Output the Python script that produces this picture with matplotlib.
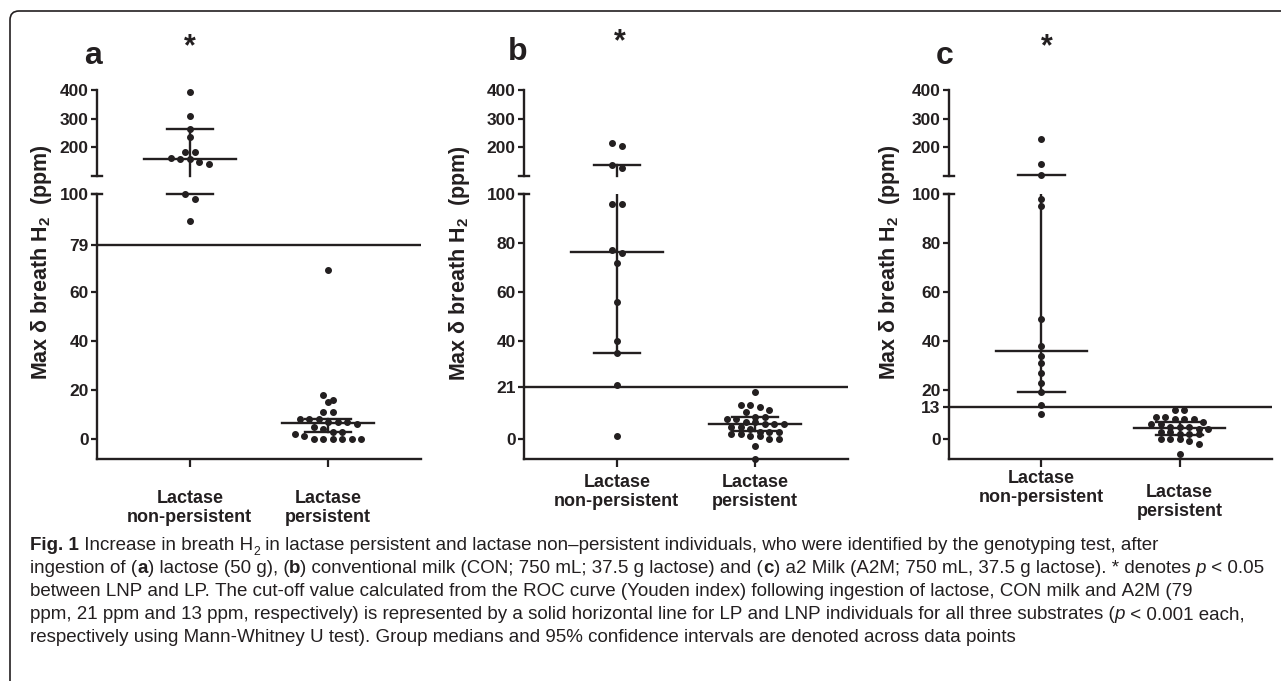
import numpy as np
import matplotlib
matplotlib.use('Agg')
import matplotlib.pyplot as plt
from matplotlib import transforms
from matplotlib.lines import Line2D
from matplotlib.patches import FancyBboxPatch

W, H = 1281, 681
INK = '#231f20'

plt.rcParams['font.family'] = ['Liberation Sans', 'DejaVu Sans']
plt.rcParams['mathtext.fontset'] = 'custom'
plt.rcParams['mathtext.rm'] = 'Liberation Sans'
plt.rcParams['mathtext.bf'] = 'Liberation Sans:bold'
plt.rcParams['mathtext.it'] = 'Liberation Sans:italic'

# ---- data (ppm) ----
panel_ids = ['a', 'b', 'c']
group_labels = ['Lactase\nnon-persistent', 'Lactase\npersistent']
cutoffs = [79, 21, 13]
lower_ticks = [[0, 20, 40, 60, 79, 100],
               [0, 21, 40, 60, 80, 100],
               [0, 13, 20, 40, 60, 80, 100]]
upper_ticks = [200, 300, 400]

lnp_a = [392, 308, 263, 237, 185, 183, 162, 160, 160, 150, 142, 100, 98, 89]
lp_a = [69, 18, 16, 15, 11, 11, 8, 8, 8, 7, 7, 7, 6, 5, 4, 3, 3, 2, 1, 0, 0, 0, 0, 0, 0]
lnp_b = [216, 205, 138, 127, 96, 96, 77, 76, 72, 56, 40, 35, 22, 1]
lp_b = [19, 14, 14, 13, 12, 11, 9, 9, 8, 8, 7, 7, 6, 6, 6, 5, 5, 4, 3, 3, 3, 2, 2, 1, 1, 0, 0, -3, -8]
lnp_c = [229, 142, 102, 98, 95, 49, 38, 34, 31, 27, 23, 19, 14, 10]
lp_c = [12, 12, 9, 9, 8, 8, 8, 7, 6, 6, 5, 5, 5, 4, 4, 3, 3, 2, 2, 2, 0, 0, 0, -1, -2, -6]
values = [[lnp_a, lp_a], [lnp_b, lp_b], [lnp_c, lp_c]]

medians = [[161, 6.4], [76.5, 6.1], [36, 4.6]]
ci_low = [[100, 3.0], [35, 3.3], [19, 1.6]]
ci_high = [[263, 8.0], [138, 9.1], [102, 7.1]]

caption = [
    [('Fig. 1', 'b'), (' Increase in breath H', ''), ('2', 'sub'),
     (' in lactase persistent and lactase non\u2013persistent individuals, who were identified by the genotyping test, after', '')],
    [('ingestion of (', ''), ('a', 'b'), (') lactose (50 g), (', ''), ('b', 'b'),
     (') conventional milk (CON; 750 mL; 37.5 g lactose) and (', ''), ('c', 'b'),
     (') a2 Milk (A2M; 750 mL, 37.5 g lactose). * denotes ', ''), ('p', 'i'), (' < 0.05', '')],
    [('between LNP and LP. The cut-off value calculated from the ROC curve (Youden index) following ingestion of lactose, CON milk and A2M (79', '')],
    [('ppm, 21 ppm and 13 ppm, respectively) is represented by a solid horizontal line for LP and LNP individuals for all three substrates (', ''),
     ('p', 'i'), (' < 0.001 each,', '')],
    [('respectively using Mann-Whitney U test). Group medians and 95% confidence intervals are denoted across data points', '')],
]

# ---- layout (pixels) ----
panel_x = [(97, 421), (524, 848), (949, 1272)]
upper_y = (90, 176)
lower_y = (194, 459)
lower_lim = (-8.2, 100)
upper_lim = (100, 400)
xlim = (-0.67, 1.67)
ylabel_pos = [(42, 262), (460, 263), (890, 262)]
letter_pos = [(93, 56), (518, 52), (945, 56)]
star_pos = [(190, 47), (620, 42), (1047, 47)]
xlabel_y = [(508, 508), (492, 492), (488, 502)]


def rect(x0, x1, y0, y1):
    return [x0 / W, 1 - y1 / H, (x1 - x0) / W, (y1 - y0) / H]


def swarm(ax, vals, tol=6.0, step=9.5):
    vals = np.asarray(vals, float)
    ys = ax.transData.transform(np.column_stack([np.zeros(len(vals)), vals]))[:, 1]
    order = np.argsort(-ys, kind='stable')
    offs = np.zeros(len(vals))
    rows, row = [], []
    for i in order:
        if row and ys[row[0]] - ys[i] > tol:
            rows.append(row)
            row = []
        row.append(i)
    rows.append(row)
    for r in rows:
        k = len(r)
        for j, i in enumerate(r):
            offs[i] = (j - (k - 1) / 2) * step
    unit = ax.transData.transform([[1, 0]])[0, 0] - ax.transData.transform([[0, 0]])[0, 0]
    return offs / unit


def style_axis(ax, ticks, lim):
    ax.set_xlim(*xlim)
    ax.set_ylim(*lim)
    for s in ['top', 'right']:
        ax.spines[s].set_visible(False)
    for s in ['left', 'bottom']:
        ax.spines[s].set_linewidth(1.7)
        ax.spines[s].set_color(INK)
    ax.set_yticks(ticks)
    ax.set_yticklabels([str(t) for t in ticks], fontsize=12.5, fontweight='bold', color=INK)
    ax.tick_params(axis='y', direction='out', length=4, width=1.6, color=INK, pad=2)
    ax.patch.set_alpha(0)


fig = plt.figure(figsize=(W / 100, H / 100), dpi=100)
fig.patch.set_facecolor('white')

for p in range(3):
    x0, x1 = panel_x[p]
    up = fig.add_axes(rect(x0, x1, *upper_y))
    lo = fig.add_axes(rect(x0, x1, *lower_y))
    style_axis(up, upper_ticks, upper_lim)
    style_axis(lo, lower_ticks[p], lower_lim)
    up.spines['bottom'].set_visible(False)
    up.set_xticks([])
    lo.set_xticks([0, 1])
    lo.set_xticklabels(['', ''])
    lo.tick_params(axis='x', direction='out', length=6, width=1.6, color=INK)

    # break caps on the y axis
    for yy in (upper_y[1], lower_y[0]):
        fig.add_artist(Line2D([(x0 - 5) / W, (x0 + 5) / W], [1 - yy / H, 1 - yy / H],
                              transform=fig.transFigure, color=INK, lw=1.7))

    lo.axhline(cutoffs[p], color=INK, lw=1.7, zorder=2)

    for g in range(2):
        v = np.asarray(values[p][g], float)
        for ax, mask in ((up, v > 100), (lo, v <= 100)):
            if mask.any():
                xs = g + swarm(ax, v[mask])
                ax.plot(xs, v[mask], 'o', ms=4.0, color=INK, mec=INK, zorder=5, clip_on=False)
        lo_v, hi_v = ci_low[p][g], ci_high[p][g]
        lo.plot([g, g], [max(lo_v, lower_lim[0]), min(hi_v, 100)], color=INK, lw=1.7, zorder=3)
        if hi_v > 100:
            up.plot([g, g], [max(lo_v, 100), hi_v], color=INK, lw=1.7, zorder=3, clip_on=False)
        for val, half in ((medians[p][g], 0.333), (lo_v, 0.167), (hi_v, 0.167)):
            ax = up if val > 100 else lo
            ax.plot([g - half, g + half], [val, val], color=INK, lw=1.7, zorder=3, clip_on=False)

        tr = transforms.blended_transform_factory(lo.transData, fig.transFigure)
        lo.text(g, 1 - xlabel_y[p][g] / H, group_labels[g], transform=tr, ha='center', va='center',
                fontsize=13, fontweight='bold', color=INK, linespacing=1.15)

    fig.text(ylabel_pos[p][0] / W, 1 - ylabel_pos[p][1] / H, 'Max \u03b4 breath H$_\\mathbf{2}$  (ppm)',
             rotation=90, ha='center', va='center', fontsize=15.5, fontweight='bold', color=INK)
    fig.text(letter_pos[p][0] / W, 1 - letter_pos[p][1] / H, panel_ids[p], ha='center', va='center',
             fontsize=23, fontweight='bold', color=INK)
    fig.text(star_pos[p][0] / W, 1 - star_pos[p][1] / H, '*', ha='center', va='center',
             fontsize=22, fontweight='bold', color=INK)

# rounded frame around the figure
fig.add_artist(FancyBboxPatch((10, -20), 1320, H - 11 + 20, boxstyle='round,pad=0,rounding_size=9',
                              transform=None, fill=False, ec=INK, lw=1.2))

# caption, drawn run by run so bold / italic / subscript can mix on one line
renderer = fig.canvas.get_renderer()
cap_font = ['Liberation Sans Narrow', 'Liberation Sans', 'DejaVu Sans']


def draw_line(runs, x, y, size, dry=False):
    for text, kind in runs:
        kw = dict(fontsize=size, family=cap_font, color=INK, va='baseline', ha='left')
        yy = y
        if kind == 'b':
            kw['fontweight'] = 'bold'
        elif kind == 'i':
            kw['fontstyle'] = 'italic'
        elif kind == 'sub':
            kw['fontsize'] = size * 0.65
            yy = y + size * 0.35
        t = fig.text(x / W, 1 - yy / H, text.replace(' ', '\u00a0'), **kw)
        x += t.get_window_extent(renderer).width
        if dry:
            t.remove()
    return x


cap_left, cap_right = 30, 1266
widest = max(draw_line(runs, cap_left, 0, 10, dry=True) for runs in caption)
cap_size = 10 * (cap_right - cap_left) / (widest - cap_left)
for i, runs in enumerate(caption):
    draw_line(runs, cap_left, 550 + i * 23, cap_size)

fig.savefig('out.png', dpi=100, facecolor='white')
